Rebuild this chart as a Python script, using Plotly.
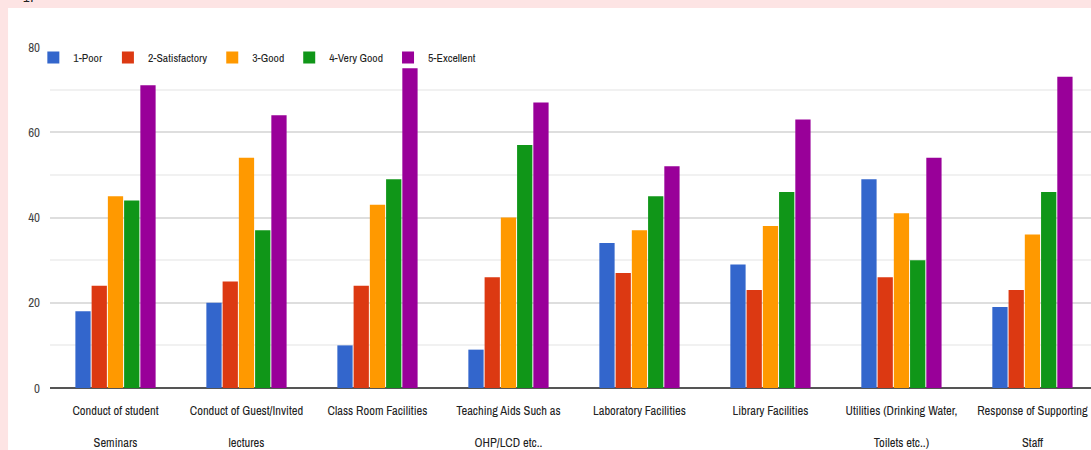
import plotly.graph_objects as go

categories = [
    "Conduct of student<br><br>Seminars",
    "Conduct of Guest/Invited<br><br>lectures",
    "Class Room Facilities",
    "Teaching Aids Such as<br><br>OHP/LCD etc..",
    "Laboratory Facilities",
    "Library Facilities",
    "Utilities (Drinking Water,<br><br>Toilets etc..)",
    "Response of Supporting<br><br>Staff",
]

poor = [18, 20, 10, 9, 34, 29, 49, 19]
satisfactory = [24, 25, 24, 26, 27, 23, 26, 23]
good = [45, 54, 43, 40, 37, 38, 41, 36]
very_good = [44, 37, 49, 57, 45, 46, 30, 46]
excellent = [71, 64, 75, 67, 52, 63, 54, 73]

series_names = ["1-Poor", "2-Satisfactory", "3-Good", "4-Very Good", "5-Excellent"]
series_values = [poor, satisfactory, good, very_good, excellent]
colors = ["#3366cc", "#dc3912", "#ff9900", "#109618", "#990099"]

font_family = "Archivo Narrow, Roboto Condensed, sans-serif"

x_idx = list(range(len(categories)))

fig = go.Figure()
for name, vals, col in zip(series_names, series_values, colors):
    fig.add_trace(go.Bar(
        x=x_idx,
        y=vals,
        name=name,
        marker=dict(color=col, line=dict(width=0)),
    ))

fig.update_layout(
    width=1091,
    height=450,
    barmode="group",
    bargap=0.38,
    bargroupgap=0.06,
    paper_bgcolor="#fde4e4",
    plot_bgcolor="rgba(0,0,0,0)",
    margin=dict(l=50, r=0, t=47, b=62),
    font=dict(family=font_family, size=12, color="#222222"),
    legend=dict(
        orientation="h",
        x=-0.016,
        xanchor="left",
        y=1.0115,
        yanchor="top",
        bgcolor="rgba(0,0,0,0)",
        font=dict(family=font_family, size=11.7, color="#222222"),
        traceorder="normal",
        itemwidth=30,
    ),
    showlegend=True,
)

# white card over the pink page background
fig.add_shape(
    type="rect",
    xref="paper", yref="paper",
    x0=-0.0403, x1=1.01,
    y0=-0.2, y1=1.1144,
    fillcolor="white",
    line=dict(width=0),
    layer="below",
)

# cut-off text at the very top edge
fig.add_annotation(
    text="17",
    xref="paper", yref="paper",
    x=-0.028, y=1.114,
    yanchor="bottom",
    showarrow=False,
    font=dict(family=font_family, size=14, color="#222222"),
)

fig.update_xaxes(
    tickmode="array",
    tickvals=x_idx,
    ticktext=categories,
    range=[-0.5, 7.447],
    showgrid=False,
    showline=False,
    zeroline=False,
    ticks="",
    automargin=False,
    ticklabeloverflow="allow",
    ticklabelstandoff=13,
    tickfont=dict(family=font_family, size=12.5, color="#222222"),
)

fig.update_yaxes(
    range=[0, 80],
    tickvals=[0, 20, 40, 60, 80],
    showgrid=True,
    gridcolor="#dedede",
    gridwidth=2,
    minor=dict(dtick=10, showgrid=True, gridcolor="#f1f1f1", gridwidth=2),
    zeroline=True,
    zerolinecolor="#555555",
    zerolinewidth=2,
    ticks="",
    automargin=False,
    ticklabelstandoff=9,
    tickfont=dict(family=font_family, size=13, color="#444444"),
)

# page body margin off so the figure sits at the window's top-left corner
fig.write_html(
    "out.html",
    config={"displayModeBar": False},
    post_script="document.body.style.margin='0';",
)
